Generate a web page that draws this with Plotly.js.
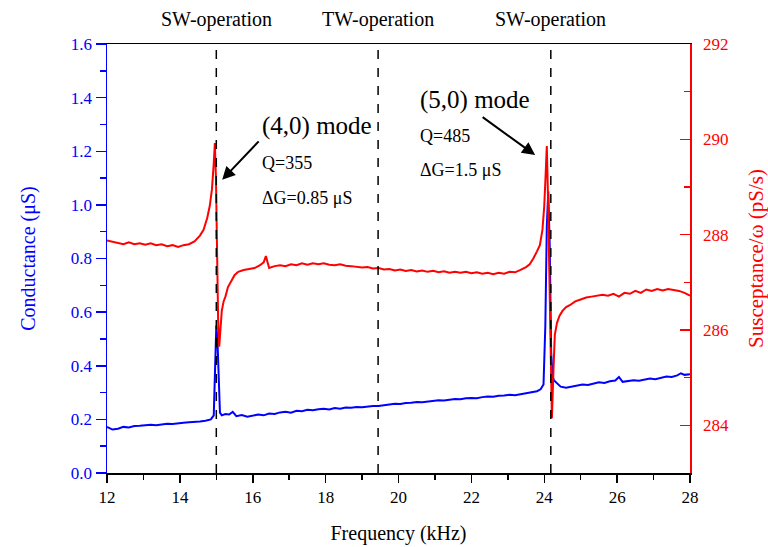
<!DOCTYPE html>
<html>
<head>
<meta charset="utf-8">
<script src="https://cdn.plot.ly/plotly-3.0.1.min.js"></script>
<style>html,body{margin:0;padding:0;background:#fff;}#chart{width:768px;height:547px;}</style>
</head>
<body>
<div id="chart"></div>
<script>
// Conductance (blue, left axis)
const freqG = [12.0,12.15,12.3,12.45,12.6,12.75,12.9,13.05,13.2,13.35,13.5,13.65,13.8,13.95,14.1,14.25,14.4,14.55,14.7,14.85,14.93,14.97,15.0,15.03,15.07,15.1,15.15,15.25,15.35,15.45,15.55,15.7,15.85,16.0,16.15,16.3,16.45,16.6,16.75,16.9,17.05,17.2,17.35,17.5,17.65,17.8,17.95,18.1,18.25,18.4,18.55,18.7,18.85,19.0,19.15,19.3,19.45,19.6,19.75,19.9,20.05,20.2,20.35,20.5,20.65,20.8,20.95,21.1,21.25,21.4,21.55,21.7,21.85,22.0,22.15,22.3,22.45,22.6,22.75,22.9,23.05,23.2,23.35,23.5,23.65,23.8,23.9,23.98,24.03,24.07,24.11,24.15,24.19,24.23,24.27,24.35,24.45,24.6,24.75,24.9,25.05,25.2,25.35,25.5,25.65,25.8,25.95,26.05,26.15,26.3,26.45,26.6,26.75,26.9,27.05,27.2,27.35,27.5,27.65,27.75,27.85,28.0];
const condG = [0.172,0.162,0.165,0.172,0.170,0.175,0.176,0.178,0.180,0.178,0.182,0.184,0.183,0.186,0.187,0.189,0.190,0.192,0.195,0.200,0.215,0.42,0.55,0.50,0.30,0.225,0.215,0.22,0.218,0.228,0.212,0.216,0.210,0.214,0.218,0.215,0.222,0.220,0.226,0.228,0.225,0.232,0.230,0.236,0.234,0.238,0.240,0.237,0.242,0.240,0.244,0.243,0.246,0.245,0.248,0.250,0.250,0.253,0.256,0.258,0.257,0.261,0.262,0.265,0.264,0.267,0.268,0.271,0.270,0.274,0.276,0.275,0.279,0.280,0.279,0.283,0.285,0.284,0.288,0.289,0.292,0.290,0.294,0.298,0.300,0.305,0.312,0.330,0.55,0.92,1.05,0.85,0.45,0.36,0.345,0.335,0.322,0.318,0.322,0.325,0.330,0.328,0.334,0.338,0.336,0.342,0.345,0.358,0.340,0.342,0.346,0.344,0.348,0.352,0.350,0.355,0.360,0.358,0.364,0.372,0.366,0.368];

// Susceptance / omega (red, right axis)
const freqB = [12.0,12.15,12.3,12.45,12.6,12.75,12.9,13.05,13.2,13.35,13.5,13.65,13.8,13.95,14.1,14.25,14.4,14.55,14.65,14.75,14.82,14.88,14.93,14.96,14.99,15.02,15.05,15.08,15.11,15.15,15.2,15.25,15.32,15.4,15.5,15.6,15.75,15.9,16.05,16.2,16.3,16.36,16.45,16.6,16.75,16.9,17.05,17.2,17.35,17.5,17.65,17.8,17.95,18.1,18.25,18.4,18.55,18.7,18.85,19.0,19.15,19.3,19.45,19.6,19.75,19.9,20.05,20.2,20.35,20.5,20.65,20.8,20.95,21.1,21.25,21.4,21.55,21.7,21.85,22.0,22.15,22.3,22.45,22.6,22.75,22.9,23.05,23.2,23.35,23.5,23.6,23.7,23.8,23.88,23.95,24.0,24.04,24.07,24.1,24.14,24.18,24.21,24.25,24.29,24.35,24.42,24.5,24.6,24.7,24.85,25.0,25.15,25.3,25.45,25.6,25.75,25.9,26.05,26.2,26.35,26.5,26.65,26.8,26.95,27.1,27.25,27.4,27.55,27.7,27.85,28.0];
const suscB = [287.88,287.85,287.83,287.80,287.84,287.80,287.82,287.79,287.82,287.78,287.80,287.76,287.78,287.74,287.78,287.80,287.86,287.98,288.10,288.35,288.60,288.95,289.50,289.92,289.20,287.40,286.20,285.65,285.90,286.40,286.60,286.70,286.90,287.00,287.15,287.22,287.26,287.28,287.30,287.36,287.42,287.55,287.30,287.34,287.36,287.34,287.38,287.36,287.40,287.37,287.40,287.38,287.40,287.37,287.36,287.38,287.35,287.34,287.33,287.31,287.32,287.29,287.30,287.27,287.28,287.25,287.27,287.24,287.26,287.23,287.25,287.22,287.24,287.21,287.23,287.20,287.22,287.20,287.22,287.19,287.21,287.18,287.20,287.17,287.20,287.18,287.22,287.21,287.26,287.32,287.38,287.50,287.65,287.78,288.10,288.60,289.30,289.86,288.90,286.80,285.00,284.15,285.10,285.90,286.15,286.30,286.40,286.48,286.52,286.60,286.64,286.68,286.70,286.72,286.74,286.72,286.76,286.70,286.78,286.76,286.82,286.78,286.85,286.82,286.86,286.83,286.86,286.84,286.82,286.78,286.72];

// Operation-region markers
const markerFreqs = [15.0, 19.44, 24.18];
const markerLabels = ["SW-operation", "TW-operation", "SW-operation"];

const serif = "Liberation Serif, Times New Roman, serif";

const traces = [
  {x: freqG, y: condG, type: "scatter", mode: "lines", name: "Conductance",
   line: {color: "#0000ff", width: 2}, yaxis: "y"},
  {x: freqB, y: suscB, type: "scatter", mode: "lines", name: "Susceptance/ω",
   line: {color: "#ff0000", width: 2}, yaxis: "y2"}
];

const shapes = markerFreqs.map(f => ({
  type: "line", xref: "x", yref: "paper", x0: f, x1: f, y0: 0, y1: 1,
  line: {color: "black", width: 1.5, dash: "dash"}
}));

const annotations = markerFreqs.map((f, i) => ({
  x: f, xref: "x", y: 1.056, yref: "paper", text: markerLabels[i], showarrow: false,
  xanchor: "center", yanchor: "middle", font: {family: serif, size: 20, color: "black"}
}));

annotations.push(
  {x: 16.2, xref: "x", y: 290.28, yref: "y2", text: "(4,0) mode", showarrow: false, xanchor: "left", yanchor: "middle", font: {family: serif, size: 25, color: "black"}},
  {x: 16.2, xref: "x", y: 289.5, yref: "y2", text: "Q=355", showarrow: false, xanchor: "left", yanchor: "middle", font: {family: serif, size: 18, color: "black"}},
  {x: 16.2, xref: "x", y: 288.77, yref: "y2", text: "ΔG=0.85 μS", showarrow: false, xanchor: "left", yanchor: "middle", font: {family: serif, size: 18, color: "black"}},
  {x: 15.16, xref: "x", y: 289.15, yref: "y2", text: "", showarrow: true, ax: 38, ay: -40, arrowhead: 2, arrowsize: 1.3, arrowwidth: 2, arrowcolor: "black", standoff: 0},
  {x: 20.53, xref: "x", y: 290.82, yref: "y2", text: "(5,0) mode", showarrow: false, xanchor: "left", yanchor: "middle", font: {family: serif, size: 25, color: "black"}},
  {x: 20.53, xref: "x", y: 290.08, yref: "y2", text: "Q=485", showarrow: false, xanchor: "left", yanchor: "middle", font: {family: serif, size: 18, color: "black"}},
  {x: 20.53, xref: "x", y: 289.36, yref: "y2", text: "ΔG=1.5 μS", showarrow: false, xanchor: "left", yanchor: "middle", font: {family: serif, size: 18, color: "black"}},
  {x: 23.75, xref: "x", y: 289.67, yref: "y2", text: "", showarrow: true, ax: -54, ay: -39, arrowhead: 2, arrowsize: 1.3, arrowwidth: 2, arrowcolor: "black", standoff: 0}
);

const layout = {
  width: 768, height: 547,
  margin: {l: 107, r: 78, t: 44, b: 74, pad: 0},
  paper_bgcolor: "white", plot_bgcolor: "white",
  showlegend: false,
  font: {family: serif, color: "black"},
  xaxis: {
    range: [12, 28], dtick: 2, tick0: 12, showgrid: false, zeroline: false,
    showline: true, linecolor: "black", linewidth: 1.5, mirror: true,
    ticks: "outside", ticklen: 8, tickwidth: 1.5, tickcolor: "black",
    minor: {dtick: 1, ticks: "outside", ticklen: 5, tickwidth: 1.5, tickcolor: "black", showgrid: false},
    tickfont: {family: serif, size: 17, color: "black"},
    title: {text: "Frequency (kHz)", font: {family: serif, size: 20, color: "black"}, standoff: 20}
  },
  yaxis: {
    range: [0, 1.6], dtick: 0.2, tick0: 0, tickformat: ".1f", showgrid: false, zeroline: false,
    showline: true, linecolor: "#0000ff", linewidth: 1.5,
    ticks: "outside", ticklen: 10, tickwidth: 1.5, tickcolor: "#0000ff",
    minor: {dtick: 0.1, ticks: "outside", ticklen: 6, tickwidth: 1.5, tickcolor: "#0000ff", showgrid: false},
    tickfont: {family: serif, size: 17, color: "#0000ff"},
    title: {text: "Conductance (μS)", font: {family: serif, size: 20, color: "#0000ff"}, standoff: 30}
  },
  yaxis2: {
    overlaying: "y", side: "right",
    range: [283, 292], dtick: 2, tick0: 284, showgrid: false, zeroline: false,
    showline: true, linecolor: "#ff0000", linewidth: 1.5,
    ticks: "inside", ticklen: 10, tickwidth: 1.5, tickcolor: "#ff0000",
    minor: {dtick: 1, ticks: "inside", ticklen: 6, tickwidth: 1.5, tickcolor: "#ff0000", showgrid: false},
    ticklabelstandoff: 8,
    tickfont: {family: serif, size: 17, color: "#ff0000"},
    title: {text: "Susceptance/ω (pS/s)", font: {family: serif, size: 21, color: "#ff0000"}, standoff: 20}
  },
  shapes: shapes,
  annotations: annotations
};

Plotly.newPlot("chart", traces, layout, {displayModeBar: false, staticPlot: true});
</script>
</body>
</html>
